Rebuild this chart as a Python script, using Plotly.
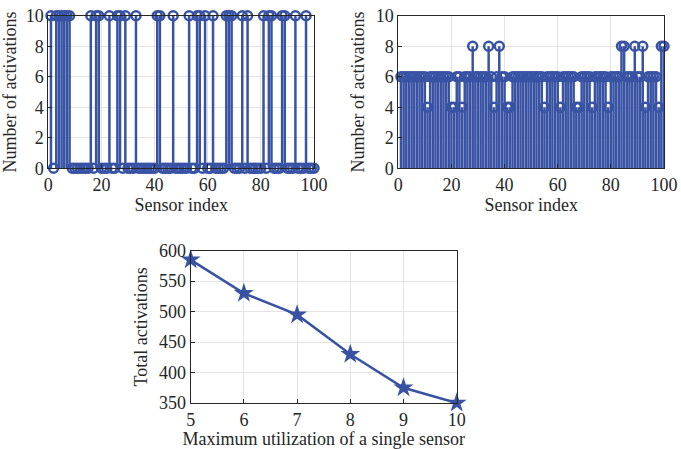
import plotly.graph_objects as go

# ---------------- data ----------------
sensor_index = list(range(1, 101))

# Left panel: sensors that reached 10 activations (others are 0)
left_high_sensors = [1, 3, 4, 5, 6, 7, 8, 16, 18, 19, 23, 26, 27, 29, 33, 41, 42, 47,
                     53, 56, 57, 59, 62, 67, 68, 69, 73, 75, 81, 83, 84, 88, 89, 93, 97]
left_activations = [10 if s in left_high_sensors else 0 for s in sensor_index]

# Right panel: most sensors at 6, some at 4 and some at 8
right_low_sensors = [11, 20, 21, 24, 36, 41, 42, 55, 61, 67, 68, 73, 79, 93, 98]
right_high_sensors = [28, 34, 38, 84, 85, 89, 92, 99, 100]
right_activations = [4 if s in right_low_sensors else (8 if s in right_high_sensors else 6)
                     for s in sensor_index]

# Bottom panel
max_utilization = [5, 6, 7, 8, 9, 10]
total_activations = [585, 530, 495, 430, 375, 350]

# ---------------- styling ----------------
BLUE = "#3953a4"
AXC = "#262626"
GRID = "#e3e3e3"
FONT = "Liberation Serif"


def stem_xy(xs, ys):
    sx, sy = [], []
    for x, y in zip(xs, ys):
        sx += [x, x, None]
        sy += [0, y, None]
    return sx, sy


fig = go.Figure()

for xs, ys, ax in [(sensor_index, left_activations, ("x", "y")),
                   (sensor_index, right_activations, ("x2", "y2"))]:
    sx, sy = stem_xy(xs, ys)
    fig.add_trace(go.Scatter(x=sx, y=sy, mode="lines", xaxis=ax[0], yaxis=ax[1],
                             line=dict(color=BLUE, width=2.5), showlegend=False,
                             hoverinfo="skip", cliponaxis=False))
    fig.add_trace(go.Scatter(x=xs, y=ys, mode="markers", xaxis=ax[0], yaxis=ax[1],
                             marker=dict(symbol="circle-open", size=9,
                                         color=BLUE, line=dict(width=2.5, color=BLUE)),
                             showlegend=False, cliponaxis=False))

fig.add_trace(go.Scatter(x=max_utilization, y=total_activations, mode="lines+markers",
                         xaxis="x3", yaxis="y3",
                         line=dict(color=BLUE, width=2.5),
                         marker=dict(symbol="star", size=15, color=BLUE),
                         showlegend=False, cliponaxis=False))

W, H = 681, 449


def dx(a, b):
    return [a / W, b / W]


def dy(top, bottom):
    return [1 - bottom / H, 1 - top / H]


common = dict(showline=True, linecolor=AXC, linewidth=1, mirror=True,
              ticks="inside", ticklen=4, tickcolor=AXC, automargin=False,
              ticklabeloverflow="allow",
              showgrid=True, gridcolor=GRID, gridwidth=1, zeroline=False,
              tickfont=dict(family=FONT, size=18, color=AXC),
              title_font=dict(family=FONT, size=18, color=AXC))

fig.update_layout(
    width=W, height=H,
    margin=dict(l=0, r=0, t=0, b=0),
    paper_bgcolor="white", plot_bgcolor="white",
    font=dict(family=FONT, color=AXC),
    xaxis=dict(domain=dx(48.3, 314), range=[0, 100], tickvals=[0, 20, 40, 60, 80, 100],
               anchor="y", title=dict(text="Sensor index", standoff=4), **common),
    yaxis=dict(domain=dy(15.7, 168.3), range=[0, 10], tickvals=[0, 2, 4, 6, 8, 10],
               anchor="x", title=dict(text="Number of activations", standoff=6), **common),
    xaxis2=dict(domain=dx(398.3, 664), range=[0, 100], tickvals=[0, 20, 40, 60, 80, 100],
                anchor="y2", title=dict(text="Sensor index", standoff=4), **common),
    yaxis2=dict(domain=dy(15.7, 168.3), range=[0, 10], tickvals=[0, 2, 4, 6, 8, 10],
                anchor="x2", title=dict(text="Number of activations", standoff=6), **common),
    xaxis3=dict(domain=dx(190.7, 456.7), range=[5, 10], tickvals=max_utilization,
                anchor="y3", title=dict(text="Maximum utilization of a single sensor", standoff=4),
                **common),
    yaxis3=dict(domain=dy(250.7, 403), range=[350, 600],
                tickvals=[350, 400, 450, 500, 550, 600],
                anchor="x3", title=dict(text="Total activations", standoff=6), **common),
)

# remove the browser's default page margin so the figure fills the window exactly
fig.write_html("out.html",
               config={"displayModeBar": False},
               post_script="document.body.style.margin='0';document.body.style.overflow='hidden';")
